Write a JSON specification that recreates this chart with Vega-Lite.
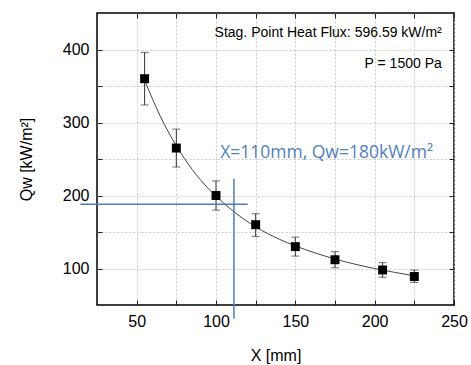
{
  "$schema": "https://vega.github.io/schema/vega-lite/v6.json",
  "width": 357,
  "height": 292,
  "autosize": {"type": "none"},
  "padding": {"left": 97, "top": 13, "right": 17, "bottom": 60},
  "background": "white",
  "config": {
    "view": {"stroke": "black", "strokeWidth": 1.5},
    "font": "Liberation Sans",
    "axis": {"labelFont": "Liberation Sans", "titleFont": "Liberation Sans", "labelColor": "black", "titleColor": "black", "titleFontWeight": "normal", "domain": false, "tickColor": "#222", "tickSize": -5, "tickWidth": 1}
  },
  "datasets": {
    "pts": [
      {"x": 55, "q": 360, "lo": 324, "hi": 396},
      {"x": 75, "q": 265, "lo": 239, "hi": 291},
      {"x": 100, "q": 200, "lo": 180, "hi": 220},
      {"x": 125, "q": 160, "lo": 144, "hi": 175},
      {"x": 150, "q": 130, "lo": 117, "hi": 143},
      {"x": 175, "q": 112, "lo": 101, "hi": 123},
      {"x": 205, "q": 98, "lo": 88, "hi": 108},
      {"x": 225, "q": 89, "lo": 81, "hi": 98}
    ],
    "fit": [
      {"x": 55, "q": 358},
      {"x": 60, "q": 332},
      {"x": 65, "q": 308},
      {"x": 70, "q": 287},
      {"x": 75, "q": 268},
      {"x": 80, "q": 251},
      {"x": 90, "q": 222},
      {"x": 100, "q": 199},
      {"x": 110, "q": 180},
      {"x": 125, "q": 157},
      {"x": 140, "q": 140},
      {"x": 150, "q": 131},
      {"x": 175, "q": 113},
      {"x": 200, "q": 100},
      {"x": 225, "q": 90}
    ],
    "hline": [{"x1": 14.5, "x2": 120, "y": 188}],
    "vline": [{"x": 111.3, "y1": 31, "y2": 223}],
    "notes": [
      {"x": 242.3, "y": 422, "t": "Stag. Point Heat Flux: 596.59 kW/m²"},
      {"x": 242.3, "y": 380, "t": "P = 1500 Pa"}
    ],
    "blue": [{"x": 102.6, "y": 258.5, "t": "X=110mm, Qw=180kW/m²"}]
  },
  "layer": [
    {
      "data": {"name": "pts"},
      "mark": {"type": "rule", "color": "#333", "strokeWidth": 1},
      "encoding": {
        "x": {"field": "x", "type": "quantitative", "scale": {"domain": [25, 250], "nice": false, "zero": false},
          "axis": {"title": "X [mm]", "values": [50, 75, 100, 125, 150, 175, 200, 225, 250], "labelExpr": "datum.value % 50 == 0 ? datum.label : ''", "labelFontSize": 16, "titleFontSize": 16, "labelPadding": 13, "titlePadding": 18, "grid": true, "gridDash": [2, 2], "gridColor": "#c8c8c8", "gridWidth": 1, "labelFlush": false}},
        "y": {"field": "lo", "type": "quantitative", "scale": {"domain": [50, 450], "nice": false, "zero": false},
          "axis": {"title": "Qw [kW/m²]", "values": [100, 150, 200, 250, 300, 350, 400], "labelExpr": "datum.value % 100 == 0 ? datum.label : ''", "labelFontSize": 16, "titleFontSize": 16, "labelPadding": 13, "titlePadding": 28, "grid": true, "gridDash": [2, 2], "gridColor": "#c8c8c8", "gridWidth": 1}},
        "y2": {"field": "hi"}
      }
    },
    {
      "data": {"name": "pts"},
      "mark": {"type": "tick", "color": "#333", "orient": "horizontal", "size": 8, "thickness": 1},
      "encoding": {
        "x": {"field": "x", "type": "quantitative", "axis": {"orient": "top", "title": null, "labels": false, "grid": false, "values": [50, 75, 100, 125, 150, 175, 200, 225, 250]}},
        "y": {"field": "lo", "type": "quantitative", "axis": {"orient": "right", "title": null, "labels": false, "grid": false, "values": [100, 150, 200, 250, 300, 350, 400]}}
      }
    },
    {
      "data": {"name": "pts"},
      "mark": {"type": "tick", "color": "#333", "orient": "horizontal", "size": 8, "thickness": 1},
      "encoding": {
        "x": {"field": "x", "type": "quantitative", "axis": null},
        "y": {"field": "hi", "type": "quantitative", "axis": null}
      }
    },
    {
      "data": {"name": "fit"},
      "mark": {"type": "line", "color": "#444", "strokeWidth": 1, "interpolate": "monotone"},
      "encoding": {
        "x": {"field": "x", "type": "quantitative", "axis": null},
        "y": {"field": "q", "type": "quantitative", "axis": null}
      }
    },
    {
      "data": {"name": "pts"},
      "mark": {"type": "square", "color": "black", "filled": true, "opacity": 1, "size": 80},
      "encoding": {
        "x": {"field": "x", "type": "quantitative", "axis": null},
        "y": {"field": "q", "type": "quantitative", "axis": null}
      }
    },
    {
      "data": {"name": "hline"},
      "mark": {"type": "rule", "color": "#4a7ebb", "strokeWidth": 1.5},
      "encoding": {
        "x": {"field": "x1", "type": "quantitative", "axis": null},
        "x2": {"field": "x2"},
        "y": {"field": "y", "type": "quantitative", "axis": null}
      }
    },
    {
      "data": {"name": "vline"},
      "mark": {"type": "rule", "color": "#4a7ebb", "strokeWidth": 1.5},
      "encoding": {
        "x": {"field": "x", "type": "quantitative", "axis": null},
        "y": {"field": "y1", "type": "quantitative", "axis": null},
        "y2": {"field": "y2"}
      }
    },
    {
      "data": {"name": "notes"},
      "mark": {"type": "text", "align": "right", "baseline": "middle", "fontSize": 14, "color": "black"},
      "encoding": {
        "x": {"field": "x", "type": "quantitative", "axis": null},
        "y": {"field": "y", "type": "quantitative", "axis": null},
        "text": {"field": "t"}
      }
    },
    {
      "data": {"name": "blue"},
      "mark": {"type": "text", "align": "left", "baseline": "middle", "fontSize": 17.5, "color": "#4f81bd", "font": "Open Sans"},
      "encoding": {
        "x": {"field": "x", "type": "quantitative", "axis": null},
        "y": {"field": "y", "type": "quantitative", "axis": null},
        "text": {"field": "t"}
      }
    }
  ],
  "resolve": {"axis": {"x": "independent", "y": "independent"}}
}
